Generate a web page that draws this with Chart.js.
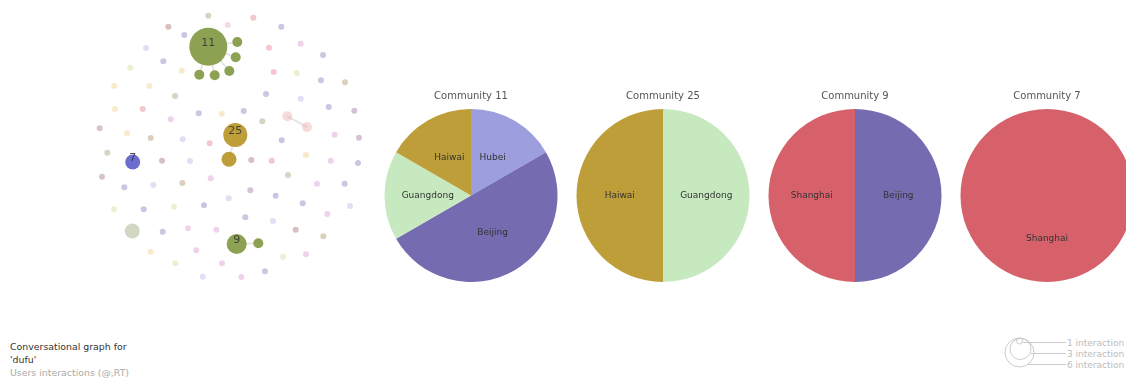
<!DOCTYPE html>
<html>
<head>
<meta charset="utf-8">
<script src="https://cdn.jsdelivr.net/npm/chart.js@4/dist/chart.umd.min.js"></script>
<style>
  html, body { margin: 0; padding: 0; background: #fff; width: 1126px; height: 379px; overflow: hidden; }
  body { position: relative; font-family: "DejaVu Sans", sans-serif; }
  canvas { position: absolute; }
  #caption { position: absolute; left: 10px; top: 340px; font-size: 9.4px; line-height: 13px; color: #333; }
  #caption .sub { color: #aaa; }
  #sizeLegend { position: absolute; left: 990px; top: 330px; }
</style>
</head>
<body>
<canvas id="graph" width="380" height="290" style="left:0;top:0"></canvas>
<canvas id="pie0" width="192" height="192" style="left:375px;top:90px"></canvas>
<canvas id="pie1" width="192" height="192" style="left:567px;top:90px"></canvas>
<canvas id="pie2" width="192" height="192" style="left:759px;top:90px"></canvas>
<canvas id="pie3" width="192" height="192" style="left:951px;top:90px"></canvas>

<div id="caption">Conversational graph for<br>'dufu'<br><span class="sub">Users interactions (@,RT)</span></div>

<svg id="sizeLegend" width="136" height="49">
  <g fill="none" stroke="#ccc" stroke-width="1">
    <circle cx="29.5" cy="22.5" r="14.5"/>
    <circle cx="30.5" cy="19" r="10.5"/>
    <circle cx="29.5" cy="11" r="3"/>
    <line x1="32.5" y1="12.5" x2="76" y2="12.5"/>
    <line x1="41" y1="23.5" x2="76" y2="23.5"/>
    <line x1="38" y1="34.5" x2="76" y2="34.5"/>
  </g>
  <g fill="#bbb" font-size="9" font-family="DejaVu Sans">
    <text x="77" y="15.5">1 interaction</text>
    <text x="77" y="26.5">3 interaction</text>
    <text x="77" y="37.5">6 interaction</text>
  </g>
</svg>

<script>
Chart.defaults.font.family = 'DejaVu Sans';

// graph nodes (layout position, bubble radius, community colour key)
const nodeX = [208.3, 237.3, 235.7, 229.3, 214.7, 199.3, 235.3, 229, 132.7, 236.7, 258.3, 132.3, 287.3, 307,
  208.3, 168.3, 253.3, 227.7, 281.3, 184.3, 146, 269, 300.7, 323, 163.3, 130.3, 181.7, 273.7, 296.7, 321, 345,
  114.3, 149.3, 175, 266, 300.7, 328.7, 354.3, 115, 142.7, 170.7, 198.7, 221.7, 243.7, 262.3, 334.7, 359,
  99.7, 127, 150.7, 182.7, 209.7, 281.7, 107.3, 162, 190, 251.3, 271.7, 306, 330.7, 358,
  102, 124.3, 153.3, 182.3, 210.7, 288, 317, 344.7, 114, 143.7, 174, 204, 228.7, 250.3, 275.7, 302.7, 327.3, 350,
  162.7, 188, 216.3, 245.3, 273, 295.7, 323.3, 150.7, 196.3, 283, 306, 175.3, 222, 202.7, 241.3, 265];
const nodeY = [46.7, 42, 57.3, 71, 75.3, 74.7, 135, 159.3, 162, 244, 243.3, 231, 116.3, 127,
  15.7, 26.7, 17.7, 25, 26.7, 35, 48, 47.7, 43.7, 55, 61.3, 67.7, 70.7, 72, 73, 80.3, 82.3,
  86, 86, 96, 94, 98.7, 107, 110.7, 109, 109, 119.3, 113.3, 113.7, 111, 121.3, 134.7, 137.7,
  128.3, 133.3, 138, 139.3, 143.3, 140.3, 152.7, 160.7, 161, 160, 160.7, 155, 160.7, 163,
  176.7, 187.3, 185, 183, 178.3, 175, 183.7, 183.7, 209.3, 209.3, 206.7, 205.3, 198.3, 190.3, 195.7, 203.3, 214, 206,
  231.7, 228.3, 229.7, 217.3, 221, 229.7, 236.3, 251.7, 250.3, 257, 254.3, 263.3, 263.3, 276.7, 277, 271.3];
const nodeR = [19, 5, 5, 5, 5, 5, 12, 7.5, 7.5, 10, 5, 7.5, 5, 5];
const nodeGroup = ['G', 'G', 'G', 'G', 'G', 'G', 'Y', 'Y', 'B', 'G', 'G', 'k', 'q', 'q',
  'k', 'r', 'p', 'q', 'u', 'u', 'l', 'p', 'm', 'u', 'u', 'e', 'o', 'p', 'e', 'u', 't',
  'o', 'o', 'k', 'u', 'l', 'u', 'v', 'o', 'p', 'm', 'u', 'o', 'u', 'k', 'm', 'v',
  'v', 'o', 't', 'l', 'p', 'u', 'k', 'r', 'l', 'r', 'p', 'o', 'm', 'u',
  'v', 'u', 'l', 't', 'm', 'k', 'm', 'u', 'e', 'u', 'e', 'u', 'l', 'v', 'u', 'u', 'm', 'l',
  'u', 'm', 'm', 'u', 'l', 'r', 't', 'o', 'm', 'e', 'm', 'e', 'm', 'l', 'm', 'u'];
const labelNodes = [0, 6, 8, 9];
const labelText = ['11', '25', '7', '9'];
const edgeFrom = [0, 0, 0, 0, 0, 6, 9, 12];
const edgeTo = [1, 2, 3, 4, 5, 7, 10, 13];

// community pies
const pieTitles = ['Community 11', 'Community 25', 'Community 9', 'Community 7'];
const pieLabels = [['Hubei', 'Beijing', 'Guangdong', 'Haiwai'], ['Guangdong', 'Haiwai'], ['Beijing', 'Shanghai'], ['Shanghai']];
const pieValues = [[1, 3, 1, 1], [1, 1], [1, 1], [1]];

const groupColors = {
  G: '#8ca252', Y: '#bd9e39', B: '#6b6ecf',
  u: 'rgba(82,84,163,0.32)', l: 'rgba(156,158,222,0.32)', p: 'rgba(214,97,107,0.35)',
  q: 'rgba(231,150,156,0.35)', m: 'rgba(206,109,189,0.3)', v: 'rgba(123,65,115,0.32)',
  o: 'rgba(231,186,82,0.3)', e: 'rgba(181,207,107,0.3)', k: 'rgba(99,121,57,0.3)',
  t: 'rgba(140,109,49,0.32)', r: 'rgba(132,60,57,0.32)'
};
const regionColors = { Beijing: '#756bb1', Hubei: '#9c9ede', Guangdong: '#c7e9c0', Haiwai: '#bd9e39', Shanghai: '#d6616b' };

const graphPlugin = {
  id: 'graphExtras',
  beforeDatasetsDraw(chart) {
    const c = chart.ctx, xs = chart.scales.x, ys = chart.scales.y;
    c.save();
    c.strokeStyle = 'rgba(200,200,200,0.45)';
    c.lineWidth = 2;
    for (let i = 0; i < edgeFrom.length; i++) {
      c.beginPath();
      c.moveTo(xs.getPixelForValue(nodeX[edgeFrom[i]]), ys.getPixelForValue(nodeY[edgeFrom[i]]));
      c.lineTo(xs.getPixelForValue(nodeX[edgeTo[i]]), ys.getPixelForValue(nodeY[edgeTo[i]]));
      c.stroke();
    }
    c.restore();
  },
  afterDatasetsDraw(chart) {
    const c = chart.ctx, pts = chart.getDatasetMeta(0).data;
    c.save();
    c.fillStyle = 'rgba(50,50,50,0.85)';
    c.font = '11px "DejaVu Sans"';
    c.textAlign = 'center';
    c.textBaseline = 'middle';
    labelNodes.forEach((n, i) => c.fillText(labelText[i], pts[n].x, pts[n].y - 4));
    c.restore();
  }
};

new Chart(document.getElementById('graph'), {
  type: 'bubble',
  data: {
    datasets: [{
      data: nodeX.map((x, i) => ({ x: x, y: nodeY[i], r: i < nodeR.length ? nodeR[i] : 3 })),
      backgroundColor: nodeGroup.map(g => groupColors[g]),
      borderWidth: 0,
      clip: false
    }]
  },
  options: {
    responsive: false,
    animation: false,
    events: [],
    layout: { padding: 0, autoPadding: false },
    scales: {
      x: { type: 'linear', min: 0, max: 380, display: false },
      y: { type: 'linear', min: 0, max: 290, reverse: true, display: false }
    },
    plugins: { legend: { display: false }, tooltip: { enabled: false } }
  },
  plugins: [graphPlugin]
});

const sliceLabels = {
  id: 'sliceLabels',
  afterDatasetsDraw(chart) {
    const c = chart.ctx;
    c.save();
    c.fillStyle = '#333';
    c.font = '9px "DejaVu Sans"';
    c.textAlign = 'center';
    c.textBaseline = 'middle';
    chart.getDatasetMeta(0).data.forEach((arc, i) => {
      const p = arc.getCenterPoint();
      c.fillText(chart.data.labels[i], p.x, p.y);
    });
    c.restore();
  }
};

pieTitles.forEach((title, k) => {
  new Chart(document.getElementById('pie' + k), {
    type: 'pie',
    data: {
      labels: pieLabels[k],
      datasets: [{
        data: pieValues[k],
        backgroundColor: pieLabels[k].map(l => regionColors[l]),
        borderWidth: 0
      }]
    },
    options: {
      responsive: false,
      animation: false,
      events: [],
      layout: { padding: 0 },
      plugins: {
        legend: { display: false },
        tooltip: { enabled: false },
        title: {
          display: true, text: title, color: '#555',
          font: { size: 10, weight: 'normal' },
          padding: { top: 0, bottom: 7 }
        }
      }
    },
    plugins: [sliceLabels]
  });
});
</script>
</body>
</html>
